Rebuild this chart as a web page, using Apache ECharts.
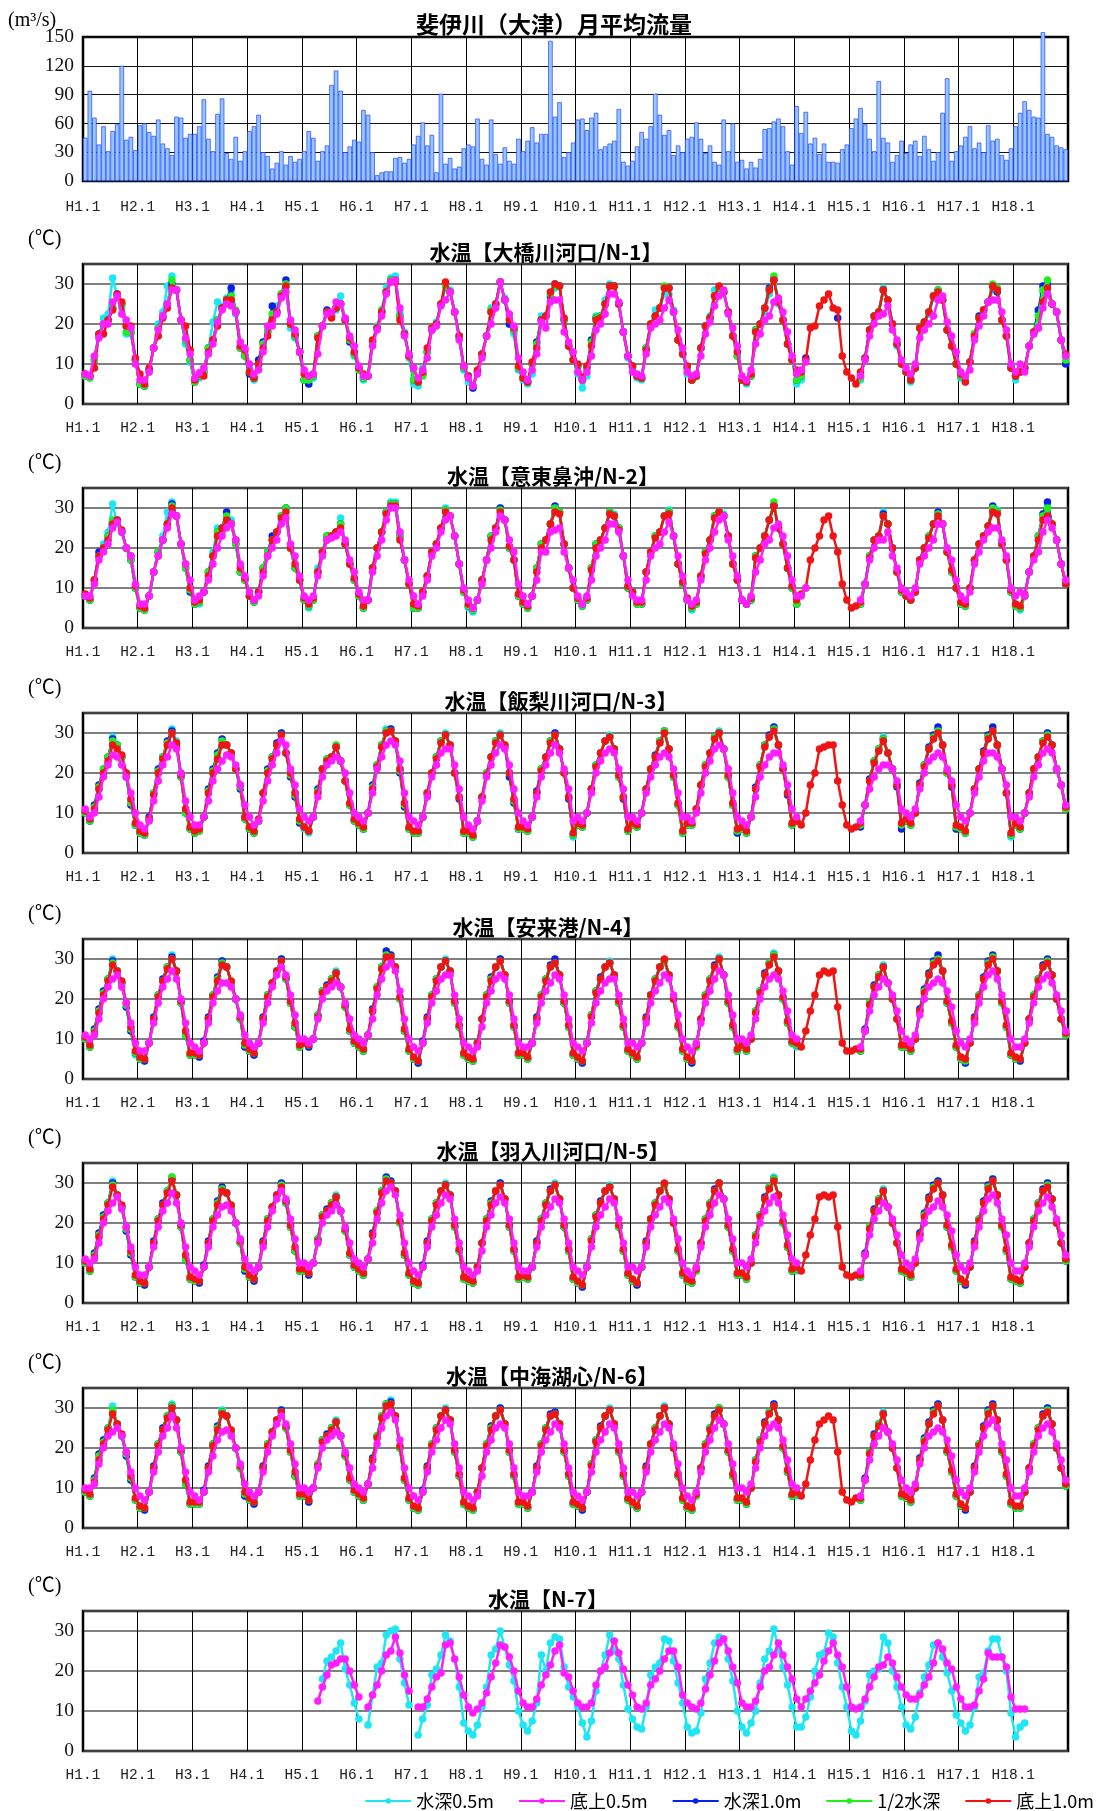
<!DOCTYPE html>
<html>
<head>
<meta charset="utf-8">
<script src="https://cdn.jsdelivr.net/npm/echarts@6/dist/echarts.min.js"></script>
<style>
  html, body { margin: 0; padding: 0; background: #fff; }
  #chart { width: 1105px; height: 1811px; }
</style>
</head>
<body>
<div id="chart"></div>
<script>
const _ = null;

// x-axis year labels (one grid line per January)
const yearLabels = ['H1.1','H2.1','H3.1','H4.1','H5.1','H6.1','H7.1','H8.1','H9.1',
  'H10.1','H11.1','H12.1','H13.1','H14.1','H15.1','H16.1','H17.1','H18.1'];

const seriesNames = ['水深0.5m', '底上0.5m', '水深1.0m', '1/2水深', '底上1.0m'];

// 斐伊川（大津）monthly mean discharge, m3/s, one row per year (Jan..Dec)
const flow = [
  [45,94,66,38,57,31,52,59,120,43,46,32],
  [58,60,51,47,64,39,34,27,67,66,45,49],
  [49,57,85,44,31,70,86,29,23,46,21,31],
  [52,57,69,30,26,13,19,31,17,26,20,23],
  [31,52,45,21,31,37,100,115,94,30,36,43],
  [41,74,69,30,6,9,10,10,24,25,19,23],
  [38,47,61,37,48,9,91,18,24,13,15,34],
  [38,36,65,23,17,64,28,18,35,21,18,44],
  [31,42,56,40,49,49,146,67,82,25,30,40],
  [64,65,53,66,71,33,36,39,42,75,20,16],
  [21,36,51,44,57,91,69,48,53,27,37,30],
  [44,46,61,44,29,37,20,17,64,31,60,20],
  [22,13,20,14,23,54,55,62,65,57,31,17],
  [78,50,72,39,45,28,39,20,20,19,33,38],
  [55,65,76,59,44,31,104,45,40,20,27,42],
  [29,38,42,26,47,33,21,30,71,107,21,31],
  [37,46,57,34,40,30,58,42,44,27,22,34],
  [57,71,83,74,67,66,155,49,46,37,35,33]
];

// ---- N-1 大橋川河口 ----
const n1_s05 = [
  [7,6.5,11.5,17,21.5,22.5,31.5,27,24,17.5,17.5,11],
  [5,4.5,8.5,14,20,23,29.5,32,28.5,21,15,10.5],
  [5.5,6.5,9,14,20.5,25.5,24.5,26.5,28,22.5,14,12.5],
  [9,6,9.5,15,18.5,22,24.5,27,29,19,16.5,13],
  [6,5,6.5,17,19.5,23,22,23.5,27,21,16,12],
  [8.5,6,7,15,19.5,23.5,29,31.5,32,23,18,11.5],
  [5,4.5,9,13,19,20.5,25,29,28.5,23,16.5,8.5],
  [5.5,4,8,12,17,24,25,30.5,26.5,20,17.5,8.5],
  [6,5,7.5,15,22,22,26,29,29.5,21,14.5,11],
  [7.5,4,7,16,22,22,26,30,29.5,25,18,11.5],
  [9,6.5,6,14,20,23.5,24,27.5,27.5,23.5,16,13],
  [7.5,6,7,14,19.5,22,28.5,28.5,28,23,17,13],
  [6,5,7,18.5,20,23,27.5,31.5,25,21,15,11],
  [5,6,_,_,_,_,_,_,_,_,_,_],
  [_,_,6,11.5,18.5,22,23,29,26,20,14.5,10],
  [8,5.5,9,19,20,22.5,26.5,27.5,26,18.5,14.5,10],
  [6.5,5.5,10.5,17,21.5,23.5,25.5,28.5,28.5,21,17,9.5],
  [6,8,9,14.5,17.5,23,28,30,25,23,16,10.5]
];
const n1_b05 = [
  [7.5,7,12,16.5,20,20,25.5,27,22.5,21,19,10],
  [6,6,8,14,18.5,22,25,28.5,28.5,21,16.5,12.5],
  [6.5,7.8,9,12.5,15,20.5,23.5,25,24.5,23,15.5,14],
  [10,7.5,8.5,13,19.5,19.5,22.5,26.5,28,21,18.5,13],
  [8.5,7,7.5,12.5,19.5,22.5,23,25.5,25,21.5,17,14.5],
  [9.5,7,7,14.5,18.5,22,27.5,30.5,31,24,17,12.5],
  [9,6.5,8.5,11.5,18.5,19.5,24.5,26,28,23,16,9.5],
  [6.5,4.5,7.5,11.5,17,20,24,30.5,26,22.5,19.5,11.5],
  [8,6,8.5,12.5,20.5,19,25.5,26,26,18,15.5,13],
  [8,6,8,12,18.5,20,22.5,27.5,27.5,25.5,18,12],
  [8,7.5,7,12.5,19,20,21,24,26,23,18.5,14],
  [8,7,7.5,12,17.5,20.5,24.5,27,28.5,22.5,19,14.5],
  [7,6,8.5,15,17.5,21,22,25.5,26.5,23,18,12],
  [7.5,8.5,10.5,_,_,_,_,_,_,_,_,_],
  [_,_,7,11,17,20,22,22.5,24.5,18.5,16,11],
  [9,7.5,10,16.5,18.5,20,22,26,27,20.5,17,13],
  [8,7,8.5,16,19.5,22,25.5,26,26,23,18.5,10],
  [8,10,8,14.5,17.5,19,24,27.5,25,23,16,12]
];
const n1_s10 = [
  [7,7,11,17.5,20,21,24,27.5,25,19.5,18,11],
  [5,4.5,8.5,14,19,22,25,30,28.5,21,16,11],
  [5.5,7,8,14,16,21,24,26,29,23,14,12],
  [7.5,6.5,11,15.5,18,24.5,23,27.5,31,20,17,13],
  [6,5,7,17,19.5,23.5,22,24,25,21,15.5,12.5],
  [9,6.5,7,15.5,19,23,28,31,31,22,17.5,12],
  [6,5.5,7.5,13,18.5,20,25,30,28,23,17,9],
  [7,4,8,12.5,17,23,25,30.5,26,20,18.5,9],
  [6.5,5.5,10,15.5,21,22,27,30,29.5,21,14.5,11],
  [9.5,6,9,16,21.5,22,25,29.5,29.5,25,18,12],
  [9.5,7,6.5,14,20,22,24,29,29,23,16,12.5],
  [9,6,7,14,19.5,21.5,27,29,28,23,17,12],
  [6,5.5,7,18.5,20,24,29,31,25.5,21,15,11],
  [6,7,11.5,_,_,_,_,_,_,21.5,_,_],
  [_,_,7,11.5,18.5,22,23,28.5,26,20,15,10],
  [8,6,9,19,20.5,23,27,28.5,26,18.5,14.5,10],
  [7,6,10.5,17.5,22,23.5,25.5,29.5,28,21,17,9],
  [7,8,9,14.5,18,23.5,29.5,30,25,23,16,10]
];
const n1_half = [
  [7,6.5,11,17,20,21,24,27,25,18,18,11],
  [5,4.5,8,14,19,22,25,31,28.5,21,16,11],
  [5.5,7,8,14,16,21,24,26,27,23.5,14,12],
  [8,6.5,10,15,18,22.5,23,27.5,30,20,17,13],
  [6,6,7,17,19.5,23,22,24,25,21,16,12.5],
  [8.5,6.5,7,15.5,19,23.5,28,31,31,22,17.5,12],
  [6,5.5,7,13,19,20,25,29.5,28,23,17,9],
  [7,4.5,8,12.5,17,23.5,25,30.5,26,21.5,18.5,9],
  [6.5,5.5,10,15,21,22,27.5,29.5,29.5,21,14.5,11],
  [9.5,6,9,15.5,21.5,22,25,29.5,29.5,25,18,12],
  [9.5,7,6.5,14,20,22,24,29.5,29,23,16,12.5],
  [9,6,7,14,19.5,21.5,27,29,28,23,17,12],
  [6,5.5,7,18.5,20,24,28.5,32,25.5,21,15,11],
  [6,7,_,_,_,_,_,_,_,_,_,_],
  [_,_,6.5,11.5,18.5,22,23,28.5,26,20,15,10],
  [8,6,9,19,20.5,23,27,28.5,26,18.5,14.5,10],
  [7,6,10.5,17.5,21.5,23.5,25.5,30,29,21,17,9],
  [7,8,9,14.5,18,22,28.5,31,25,23,16,11]
];
const n1_b10 = [
  [7.5,7,9,17.5,17.5,21,23.5,27.5,25.5,19.5,19.5,11.5],
  [7.5,5,9,14,17,21.5,24,29,28.5,21,19.5,13.5],
  [6,7.5,7,13,16,19.5,24,26,26,23,14.5,13.5],
  [8,6.5,10,14,17,21,23,27,29.5,20,17.5,13],
  [7.5,7,7.5,16.5,19.5,23,21.5,24,25,21,16.5,13],
  [9,7.5,7,16,19,23,28,30.5,30.5,21,17.5,12],
  [9,5.5,8,14,19,20,25,30.5,28,23,17,9.5],
  [7,4.5,8.5,12.5,17,23,25,30.5,26,21,19,9.5],
  [6.5,5.5,10.5,14,21,22,28,30,29.5,21.5,14.5,11],
  [10,6.5,9.5,14.5,21,21.5,25,29.5,29.5,25,18,12],
  [9.5,7,6.5,13.5,20,22,24,29,29,23,16,12.5],
  [9.5,6,7,14,19.5,21.5,27,29.5,28,23,17,13],
  [6,5.5,7.5,18,20,24,28.5,31,25.5,21,15,11],
  [8.5,8,11,19,19.5,24.5,26,27.5,24,23.5,12,8],
  [6.5,5,8,11.5,18.5,22,23,28.5,26,20,15,10],
  [8,6,9,19,20.5,23,27,28,26,18.5,14.5,10],
  [7.5,5.5,10.5,17,21.5,23.5,25.5,29.5,28.5,21,17,9],
  [7,8,9,14.5,18,19,25.5,29,25,23,16,12.5]
];

// ---- N-2 意東鼻沖 ----
const n2_s05 = [
  [8,7,12,18,21,24,31,26,24,20,17,10],
  [5,5,8,14,19,23,29,31.5,28,21,15,10],
  [6,6,9,14,19,25,24,26.5,27,22,14,12],
  [8,6.5,9,15,19,22,24,27,30,20,15,12],
  [7,5,7,15,19,23,23,23.5,27.5,21,16,12],
  [8,5,7,15,20,24,29,31.5,31.5,24,17,11],
  [5,5,9,13,19,21,25,30,28,23,16,9],
  [5,4,7,12,17,23,25,30,27,20,17,8],
  [6,5,8,15,21,22,26,29,29,21,15,10],
  [7,5.5,7,15,21,22,25,29,28.5,25,18,10],
  [9,6,6,14,19,23,24,28,29.5,23,16,11],
  [7,4.5,6,13,19,22,28,29,28.5,23,16,12],
  [7,6,7,18,20,23,27,31,25,21,15,10],
  [6,_,_,_,_,_,_,_,_,_,_,_],
  [_,_,6,11,18,22,23,29,26,20,14,9],
  [8,7,9,17,20,22.5,26,28.5,26,19,14,10],
  [6,5.5,10,17,21,23,25.5,29,29.5,21,17,9],
  [5.5,4.5,8,14,18,23,28,30.5,26,22,16,11]
];
const n2_b05 = [
  [8,8,11,17,19,21,25,26.5,24,20,18,11],
  [6,6,8,14,18,22,25,28.5,28,21,16,12],
  [7,8,9,12,16,20,23,25,26,22,16,13],
  [9,7,8,13,18,20,22,26,27.5,21,18,13],
  [8,7,8,13,18,22,22.5,23,24,22,17,14],
  [9,7,7,14,18,22,27,30,30,24,17,12],
  [8,6,8,12,18,20,24,27,28,23,16,10],
  [7,5,7,11,17,20,24,28,27,22,19,11],
  [8,6,8,12,19,19,24,24.5,25,19,15,12],
  [8,6,8,12,18,20,22,26,26,24,18,12],
  [8,7,7,12,18,20,21,24,26.5,23,18,13],
  [7,6,7,12,17,20,24,27,28,22,18,13],
  [7,6,8,14,17,21,22,25,26,23,18,12],
  [8,8,10,_,_,_,_,_,_,_,_,_],
  [_,_,7,11,17,20,22,22,24,18,15,10],
  [9,8,10,16,18,20,22,26,26,20,17,12],
  [8,7,9,16,19,22,24,25,25,22,18,10],
  [8,9,8,14,17,19,24,27,25,22,16,12]
];
const n2_s10 = [
  [8,7,12,19,20,23,26,27,24,20,17,10],
  [5,4.5,8,14,19,22,26,31,28,21,15,9],
  [6,6.5,9,14,18,24,25,29,26,21,14,12],
  [8,6.5,9,15,19,23,24,28,30,20,15,12],
  [7,5.5,7,14,19,23,23,24,26,21,16,12],
  [8,5,7,15,20,24,29,31,31,23,17,11],
  [5,5,9,13,19,21,25,29.5,28,23,16,9],
  [5.5,4.5,7,12,17,23,25,30,27,20,17,8],
  [6,5,8,15,21,22,26,30.5,29,21,15,10],
  [7,5.5,7,15,21,22,25,29,28,25,18,10],
  [9,6,6,14,19,23,24,28,29,23,16,11],
  [7,5,6,13,19,22,28,29,28,23,16,12],
  [7,6,7,18,20,23,27,30.5,25,21,15,10],
  [6,_,_,_,_,_,_,_,_,_,_,_],
  [_,_,6,11,18,22,23,28.5,26,20,14,9],
  [8,7,9,17,20,23,26,29,26,19,14,10],
  [6,5.5,10,17,21,23,25.5,30.5,29,21,17,9],
  [5.5,5,8,14,18,23,28.5,31.5,26,22,16,11]
];
const n2_half = [
  [8,7,12,18,20,23,27,27,24,20,17,10],
  [5,4.5,8,14,19,22,26,30.5,28,21,15,9.5],
  [6,6.5,9,14,18,24,25,28,26,21,14,12],
  [8,6.5,9,15,19,22,24,28,30,20,15,12],
  [7,5.5,7,14,19,23,23,24,26,21,16,12],
  [8,5,7,15,20,24,29,31,31,23,17,11],
  [5,5,9,13,19,21,25,29.5,28,23,16,9],
  [5.5,4.5,7,12,17,23,25,29.5,27,20,17,8],
  [6,5,8,15,21,22,26,30,29,21,15,10],
  [7,5.5,7,15,21,22,25,29,28,25,18,10],
  [9,6,6,14,19,23,24,28,29,23,16,11],
  [7,5,6,13,19,22,28,29,28,23,16,12],
  [7,6,7,18,20,23,27,31.5,25,21,15,10],
  [6,_,_,_,_,_,_,_,_,_,_,_],
  [_,_,6,11,18,22,23,28,26,20,14,9],
  [8,7,9,17,20,23,26,28.5,26,19,14,10],
  [6,5.5,10,17,21,23,25.5,30,29,21,17,9],
  [5.5,5,8,14,18,23,28,30,26,22,16,11]
];
const n2_b10 = [
  [8.5,7.5,12,18,20,22,26,27,24.5,20,18,10.5],
  [5.5,5,8,14,18,22,26,30,28,21,16,10],
  [6.5,7,9,13,18,23,25,27,26,22,15,12.5],
  [8,7,9,14,18,22,24,27.5,29,20,16,12],
  [7.5,6,7.5,14,19,22,23,24,25,21,16,12.5],
  [8.5,5.5,7,15,20,24,28.5,30.5,30.5,22,17,11],
  [6,5.5,9,13,19,21,25,29,28,23,16,9.5],
  [6,5,7,12,17,22,25,29,27,20.5,17,8.5],
  [6.5,5.5,8,14,20,22,26,29,28.5,21,15,10],
  [7.5,6,7.5,14.5,20,22,25,28.5,28,24.5,18,10.5],
  [9,6.5,6.5,14,19,22.5,24,28,28.5,23,16,11.5],
  [7.5,5.5,6.5,13,18.5,22,27.5,29,28,23,16,12],
  [7,6,7.5,17.5,20,23,27,30.5,25,21,15,10.5],
  [7,8.5,10,17,20,23,27,28,23,19,11,7],
  [5,5.5,6.5,11,17.5,22,23,28,26,20,14,9.5],
  [8,7,9,17,20,22.5,26,28,26,19,14.5,10],
  [6.5,6,10,17,21,23,25.5,29,28.5,21,17,9.5],
  [6,5.5,8.5,14,18,22,27,28,26,22,16,11]
];

// ---- N-3 飯梨川河口 ----
const n3_s05 = [
  [10,8,11,16,20,24,29,27,24,20,13,7],
  [5,4.5,8,15,20,24,27,31,28,19,10,6],
  [5,6,9,15,20,24,28,27,25,21,17,9],
  [6,5,8,15,20,24,27,30,25,20,15,8],
  [6,5,9,15,21,23,24,27,23,18,12,8],
  [7,6,10,16,22,27,31,31,28,21,12,6],
  [5,5,9,15,20,24,28,30,27,20,14,5],
  [5,4,8,14,20,24,28,30,27,20,13,6],
  [6,5.5,9,15,21,24,28,30,26,20,14,4],
  [7,6.5,10,16,22,25,28,29.5,26,19,14,5.5],
  [7,6.5,10,16,21,24,28,30.5,26,19,12,5],
  [7,7,11,17,22,25,29,30.5,26,19,12,5],
  [6,5,9,16,22,27,29,31.5,27,21,15,7],
  [8,_,_,_,_,_,_,_,_,_,_,_],
  [_,_,7,12,18,23,26,29,25,21,17,7],
  [8,7,10,17,22,26,29,31,27,20,17,6],
  [6,5,10,16,21,25,29,31,27,21,15,4],
  [7,6,10,15,21,24,28,30,27,21,17,11]
];
const n3_b05 = [
  [11,9,10,14,19,22,24.5,24,22,19,15,10],
  [7,6,8,13,18,22,24,27,26,20,13,9],
  [7,7,9,13,18,21,23,24.5,24,22,17,12],
  [9,7,8,13,18,22,25,28,27,21,17,11],
  [9,8,9,14,19,22,23,24,23,20,15,10],
  [9,8,10,15,21,24,27,28,27,23,15,9],
  [8,7,9,14,19,22,25,26,26,22,16,9],
  [7,6,8,13,19,22,25,27,26,22,16,10],
  [8,7,9,14,19,22,25,27,25,21,16,8],
  [9,8,10,15,20,23,25,26,25,21,16,9],
  [9,8,10,15,19,22,24,25,24,21,15,9],
  [9,8,10,15,20,23,26,27,26,21,15,9],
  [8,7,9,14,19,22,24,25,25,22,17,11],
  [9,_,_,_,_,_,_,_,_,_,_,_],
  [_,_,8,12,16,19,21,22,22,21,18,11],
  [10,9,11,16,20,23,24,25,24,21,18,12],
  [9,8,10,15,19,23,25,25,24,21,17,9],
  [9,8,10,14,19,22,25,26,25,21,17,12]
];
const n3_s10 = [
  [10,8,12,17,21,24,28.5,27,24,19,12,7],
  [5,4.5,9,15,21,24,28,30.5,27,19,10,6],
  [5,5.5,9,16,21,25,28.5,27,25,21,16,8.5],
  [6,5,8,15,21,24,27.5,30,25,19,14,7.5],
  [6.5,5.5,9,16,21,23.5,24,26.5,23,18,12,8],
  [7,6,10,17,22,27,30.5,31,27.5,20,11.5,6],
  [5,5,9,15,20,24,28,29.5,27,20,13.5,5],
  [5,4,8,14,20,24,28,29.5,26.5,19,12.5,6],
  [6,5.5,9,15.5,21,24,28,30,26,20,13.5,4.5],
  [7,6.5,10,16,22,25,28,29,26,19,13.5,5.5],
  [7,6.5,10,16,21,24.5,28,30.5,26,19,12,5],
  [7,7,11,17,22,25,29,30,26,19,12,5],
  [6,5,9,16.5,22,27,29.5,31.5,27,21,14.5,7],
  [8,_,_,_,_,_,_,_,_,_,_,_],
  [_,_,6.5,12,18.5,23,26,28.5,25,21,16.5,6],
  [8,7,10,17.5,22,26.5,29.5,31.5,27,20,16.5,6],
  [6,5,10,16,21,25.5,29.5,31.5,27,21,15,4.5],
  [7,6,10,15,21,24,28,30,27,21,17,11]
];
const n3_half = [
  [10,8,11.5,16.5,21,24,28,27,24,19.5,12.5,7],
  [5,4.5,8.5,15,20.5,24,27.5,30,27.5,19,10,6],
  [5,5.5,9,15.5,20.5,24.5,28,27,25,21,16.5,8.5],
  [6,5,8,15,20.5,24,27,29.5,25,19.5,14.5,8],
  [6.5,5.5,9,15.5,21,23.5,24,27,23,18,12,8],
  [7,6,10,16.5,22,27,30.5,30.5,28,20.5,12,6],
  [5,5,9,15,20,24,28,29.5,27,20,14,5],
  [5,4,8,14,20,24,28,29.5,27,20,13,6],
  [6,5.5,9,15,21,24,28,29.5,26,20,14,4.5],
  [7,6.5,10,16,22,25,28,29,26,19,14,5.5],
  [7,6.5,10,16,21,24,28,30.5,26,19,12,5],
  [7,7,11,17,22,25,29,30,26,19,12,5.5],
  [6,5,9,16,22,27,29,31,27,21,15,7],
  [8,_,_,_,_,_,_,_,_,_,_,_],
  [_,_,7,12,18,23,26,28.5,25,21,17,7],
  [8,7,10,17,22,26,29,30.5,27,20,17,6.5],
  [6,5,10,16,21,25,29,30.5,27,21,15,4.5],
  [7,6,10,15,21,24,28,29.5,27,21,17,11]
];
const n3_b10 = [
  [10.5,8.5,11,16,20,23,27,26,24.5,20,13.5,7.5],
  [5.5,5,8.5,14.5,20,23.5,27,30,27.5,19.5,11,6.5],
  [5.5,6,9,15,20,23.5,27,27,25,21,17,9],
  [6.5,5.5,8.5,15,20,23.5,27,29.5,25,20,15,8.5],
  [6.5,5.5,9,15,21,23,24,26.5,23,18,12.5,8.5],
  [7.5,6.5,10,16,21.5,26.5,30,30.5,28,21,12.5,6.5],
  [5.5,5.5,9,15,20,23.5,27.5,29.5,27,20,14,5.5],
  [5.5,4.5,8,14,19.5,24,27.5,29.5,27,20,13.5,6.5],
  [6.5,6,9,15,20.5,24,27.5,29.5,26,20,14,5],
  [7.5,7,10,16,21.5,25,28,29,26,19.5,14,6],
  [7.5,7,10,16,21,24,27.5,30,26,19.5,12.5,5.5],
  [7.5,7.5,11,17,21.5,25,28.5,30,26,19.5,12.5,6],
  [6.5,5.5,9,16,21.5,26.5,29,30.5,27,21,15,7.5],
  [8,7,10,17,20,26,26.5,27,27,18,12,7],
  [6,6.5,7.5,12,18,22.5,25.5,28,25,21,17,7.5],
  [8.5,7.5,10,17,21.5,26,28.5,30,27,20.5,17,7],
  [6.5,5.5,10,16,21,25,28.5,30.5,27,21,15,5],
  [7.5,6.5,10,15,21,24,27.5,29,27,21,17,11.5]
];

// ---- N-4 安来港 ----
const n4_s05 = [
  [10,8,12,17,22,25,30,27,24,18,12,6],
  [5,4.5,9,15,21,25,28,31,27,19,11,6],
  [6,5.5,9,15,21,25,29.5,28,24,20,15,8],
  [7,6,9,15,21,24,27,30,25,19,13,8],
  [9,8,10,16,22,23,25,27,23,18,12,9],
  [8,7,11,17,23,28,31,31,28,20,12,7],
  [5,4,9,15,21,25,28,30,27,19,13,6],
  [5,4.5,9,15,21,25,28,30,26,19,13,6],
  [6,5,9,15,21,25,28,29.5,26,19,13,6],
  [5,4,9,16,22,25,28,29.5,26,19,13,7],
  [6,5,9,15,21,25,28,29.5,26,20,13,7],
  [5,4,8,15,21,25,28,30.5,26,19,13,7],
  [8,7,10,17,22,26,29,31.5,27,20,14,9],
  [8,_,_,_,_,_,_,_,_,_,_,_],
  [_,_,7,12,19,23,26,28.5,24,20,15,8],
  [8,7,10,17,22,26,29,30,27,19,14,8],
  [5,4,9,15,21,25,29,30.5,27,19,13,6],
  [5,4.5,9,15,21,25,28,29.5,26,20,15,11]
];
const n4_b05 = [
  [11,10,11,15,20,23,25,26,23,19,14,9],
  [7,7,9,14,19,23,25,27,25,20,14,9],
  [8,7,9,14,19,22,24,24,23,20,16,11],
  [9,8,9,14,19,23,26,28,26,21,16,10],
  [10,9,10,15,20,22,23,24,23,19,15,11],
  [10,9,11,15,21,25,28,29,27,22,15,10],
  [8,7,9,14,19,22,25,26,26,21,15,9],
  [8,7,8,13,19,22,25,26,25,21,15,9],
  [8,8,9,14,19,22,24,26,25,21,15,9],
  [8,7,9,14,19,22,24,25,25,21,15,9],
  [9,8,9,14,19,22,24,26,25,21,16,10],
  [8,7,9,14,19,22,25,27,26,21,16,10],
  [10,9,11,15,20,23,25,26,25,22,17,11],
  [10,_,_,_,_,_,_,_,_,_,_,_],
  [_,_,8,12,17,21,23,25,24,21,17,12],
  [10,9,11,16,20,23,24,25,24,22,18,12],
  [9,8,10,14,19,23,26,27,25,21,17,10],
  [8,8,10,14,19,23,25,26,24,21,17,12]
];
const n4_s10 = [
  [10,8,12.5,17.5,22,25,29.5,27,24,18,12,6.5],
  [5,4.5,9,15.5,21,25,28,30.5,27,19,11,6],
  [6,5.5,9.5,15.5,21,25.5,29.5,28,24,20,15,8],
  [7,6,9,15.5,21,24,27,30,25,19,13,8],
  [9,8,10,16,22,23.5,25,26.5,23,18,12,9],
  [8,7,11,17.5,23,28,32,31,28,20,12,7],
  [5,4,9.5,15.5,21,25,28,29.5,27,19,13,6],
  [5,4.5,9,15,21,25.5,28,30,26,19,13,6],
  [6,5,9,15.5,21,25,28.5,30,26,19,13,6],
  [5,4,9,16,22,25.5,28,29,26,19,13,7],
  [6,5,9,15.5,21,25,28,29.5,26,20,13,7],
  [5,4,8.5,15,21,25,28.5,30,26,19,13,7],
  [8,7,10,17,22,26.5,29,31,27,20,14,9],
  [8.5,_,_,_,_,_,_,_,_,_,_,_],
  [_,_,7,12.5,19,23.5,26,28,24,20,15,8],
  [8,7,10,17.5,22.5,26.5,29.5,31,27,19,14,8],
  [5,4,9,15.5,21,25.5,29.5,31,27,19,13,6],
  [5,4.5,9,15,21,25,28.5,30,26,20,15,11]
];
const n4_half = [
  [10,8,12,17,21.5,25,29,27,24,18.5,12.5,6.5],
  [5,5,9,15,21,24.5,28,30,27,19,11,6],
  [6,6,9,15,21,25,29,28,24,20,15,8.5],
  [7,6.5,9,15,21,24,27,29.5,25,19,13,8],
  [9,8.5,10,16,22,23,25,26.5,23,18,12,9],
  [8,7,11,17,23,28,31,30.5,28,20,12,7],
  [5,4.5,9,15,21,25,28,29.5,27,19,13,6],
  [5,4.5,9,15,21,25,28,29.5,26,19,13,6],
  [6,5,9,15,21,25,28,29,26,19,13,6],
  [5,4.5,9,16,22,25,28,29,26,19,13,7],
  [6,5,9,15,21,25,28,29.5,26,20,13,7],
  [5,4.5,8,15,21,25,28,30,26,19,13,7],
  [8,7,10,17,22,26,29,31,27,20,14,9],
  [8.5,_,_,_,_,_,_,_,_,_,_,_],
  [_,_,7,12,19,23,26,28,24,20,15,8],
  [8,7,10,17,22,26,29,30,27,19,14,8],
  [5,4.5,9,15,21,25,29,30.5,27,19,13,6],
  [5,5,9,15,21,25,28,29.5,26,20,15,11]
];
const n4_b10 = [
  [10.5,8.5,11.5,16.5,21,24.5,28.5,27,24.5,19,13,7],
  [5.5,5,9,15,20.5,24.5,27.5,30,27,19.5,12,6.5],
  [6.5,6,9,15,20.5,24.5,28.5,28,24.5,20,15.5,9],
  [7.5,6.5,9,15,20.5,24,27,29.5,25.5,19.5,14,8.5],
  [9,8.5,10,15.5,21.5,23,24.5,26.5,23,18.5,12.5,9.5],
  [8.5,7.5,11,17,22.5,27.5,30.5,30.5,28,20.5,12.5,7.5],
  [5.5,4.5,9,15,20.5,24.5,28,29.5,27,19.5,13.5,6.5],
  [5.5,5,9,15,20.5,24.5,28,29.5,26,19.5,13.5,6.5],
  [6.5,5.5,9,15,20.5,24.5,28,29,26,19.5,13.5,6.5],
  [5.5,4.5,9,15.5,21.5,25,28,29,26,19.5,13.5,7.5],
  [6.5,5.5,9,15,21,24.5,28,30,26,20,13.5,7.5],
  [5.5,4.5,8.5,15,20.5,24.5,28,30,26,19.5,13.5,7.5],
  [8.5,7.5,10,16.5,21.5,26,28.5,30.5,27,20.5,14.5,9.5],
  [9,8,12,17,21,26,27,26.5,27,18,9,7],
  [7,7.5,7.5,12,18.5,23,25.5,28,24,20,15,8.5],
  [8.5,7.5,10,17,21.5,26,28.5,29.5,27,19.5,14.5,8.5],
  [5.5,5,9,15,20.5,25,28.5,30,27,19.5,13.5,6.5],
  [5.5,5,9,15,20.5,24.5,28,29,26,20,15,11.5]
];

// ---- N-5 羽入川河口 ----
const n5_s05 = [
  [10,8,12,17,22,25,30.5,27,24,18,12,6.5],
  [5,4.5,9,15,21,25,28,31.5,27,19,11,6],
  [5.5,5,9,15,21,25,28.5,27.5,24,20,15,8],
  [6.5,5.5,9,15,21,24,27,29.5,25,19,13,8],
  [8,7,10,16,22,23,25,27,23,18,12,9],
  [8,7,11,17,23,28,31,30.5,28,20,12,7],
  [5,4.5,9,15,21,25,28,30,27,19,13,6],
  [5.5,5,9,15,21,25,28,30,26,19,13,6],
  [6.5,6,9,15,21,25,28,30,26,19,13,6],
  [5,4,9,16,22,25,28,29.5,26,19,13,7],
  [5.5,4.5,9,15,21,25,28,29.5,26,20,13,7],
  [5.5,5,8,15,21,25,28,30,26,19,13,7],
  [7,6,10,17,22,26,29,31.5,27,20,14,8],
  [8,_,_,_,_,_,_,_,_,_,_,_],
  [_,_,6.5,12,19,23,26,28.5,24,20,15,8],
  [7.5,6.5,10,17,22,26,29,30.5,27,19,14,8],
  [5.5,4.5,9,15,21,25,29,31,27,19,13,6],
  [5.5,5,9,15,21,25,28,30,26,20,15,10.5]
];
const n5_b05 = [
  [11,10,11,15,20,23,25,26.5,23.5,19,14,9],
  [7,7,9,14,19,23,25,27.5,25,20,14,9],
  [8,7,9,14,19,22,24,24.5,23,20,16,11],
  [9,8,9,14,19,23,26,28,26,21,16,10],
  [10,9,10,15,20,22,23,24.5,23,19,15,11],
  [10,9,11,15,21,25,28,29,27,22,15,10],
  [8,7,9,14,19,22,25,27,26,21,15,9],
  [8,7,8,13,19,22,25,26.5,25,21,15,9],
  [8,8,9,14,19,22,24,26,25,21,15,9],
  [8,7,9,14,19,22,24,26,25,21,15,9],
  [9,8,9,14,19,22,24,26,25,21,16,10],
  [8,7,9,14,19,22,25,27,26,21,16,10],
  [10,9,11,15,20,23,25,26.5,25,22,17,11],
  [10,_,_,_,_,_,_,_,_,_,_,_],
  [_,_,8,12,17,21,23,25,24,21,17,12],
  [10,9,11,16,20,23,24,25.5,24,22,18,12],
  [9,8,10,14,19,23,26,27,25,21,17,10],
  [8,8,10,14,19,23,25,26.5,24,21,17,12]
];
const n5_s10 = [
  [10,8,12.5,17.5,22,25,30,27,24,18,12,6.5],
  [5,4.5,9,15.5,21,25,28,31,27,19,11,6],
  [5.5,5,9.5,15.5,21,25.5,29,27.5,24,20,15,8],
  [6.5,5.5,9,15.5,21,24,27,30,25,19,13,8],
  [8,7,10,16,22,23.5,25,26.5,23,18,12,9],
  [8,7,11,17.5,23,28,31.5,30.5,28,20,12,7],
  [5,4.5,9.5,15.5,21,25,28,29.5,27,19,13,6],
  [5.5,5,9,15,21,25.5,28,30,26,19,13,6],
  [6.5,6,9,15.5,21,25,28.5,29.5,26,19,13,6],
  [5,4,9,16,22,25.5,28,29,26,19,13,7],
  [5.5,4.5,9,15.5,21,25,28,29.5,26,20,13,7],
  [5.5,5,8.5,15,21,25,28.5,30,26,19,13,7],
  [7,6,10,17,22,26.5,29,31,27,20,14,8],
  [8.5,_,_,_,_,_,_,_,_,_,_,_],
  [_,_,6.5,12.5,19,23.5,26,28,24,20,15,8],
  [7.5,6.5,10,17.5,22.5,26.5,29.5,30.5,27,19,14,8],
  [5.5,4.5,9,15.5,21,25.5,29.5,31,27,19,13,6],
  [5.5,5,9,15,21,25,28.5,30,26,20,15,10.5]
];
const n5_half = [
  [10,8,12,17,21.5,25,29.5,27,24,18.5,12.5,6.5],
  [5,5,9,15,21,24.5,28,31.5,27,19,11,6],
  [5.5,5.5,9,15,21,25,28.5,27.5,24,20,15,8.5],
  [6.5,6,9,15,21,24,27,29.5,25,19,13,8],
  [8,7.5,10,16,22,23,25,26.5,23,18,12,9],
  [8,7,11,17,23,28,31,30,28,20,12,7],
  [5,4.5,9,15,21,25,28,29.5,27,19,13,6],
  [5.5,5,9,15,21,25,28,29.5,26,19,13,6],
  [6.5,6,9,15,21,25,28,29.5,26,19,13,6],
  [5,4.5,9,16,22,25,28,29,26,19,13,7],
  [5.5,5,9,15,21,25,28,29.5,26,20,13,7],
  [5.5,5,8,15,21,25,28,30,26,19,13,7],
  [7,6,10,17,22,26,29,31,27,20,14,8],
  [8.5,_,_,_,_,_,_,_,_,_,_,_],
  [_,_,6.5,12,19,23,26,28,24,20,15,8],
  [7.5,6.5,10,17,22,26,29,30,27,19,14,8],
  [5.5,5,9,15,21,25,29,30.5,27,19,13,6],
  [5.5,5,9,15,21,25,28,29.5,26,20,15,10.5]
];
const n5_b10 = [
  [10.5,8.5,11.5,16.5,21,24.5,29,27,24.5,19,13,7],
  [5.5,5,9,15,20.5,24.5,27.5,30.5,27,19.5,12,6.5],
  [6,5.5,9,15,20.5,24.5,28,27.5,24.5,20,15.5,9],
  [7,6,9,15,20.5,24,27,29,25.5,19.5,14,8.5],
  [8.5,7.5,10,15.5,21.5,23,24.5,26.5,23,18.5,12.5,9.5],
  [8.5,7.5,11,17,22.5,27.5,30.5,30,28,20.5,12.5,7.5],
  [5.5,5,9,15,20.5,24.5,28,29.5,27,19.5,13.5,6.5],
  [6,5.5,9,15,20.5,24.5,28,29.5,26,19.5,13.5,6.5],
  [7,6.5,9,15,20.5,24.5,28,29.5,26,19.5,13.5,6.5],
  [5.5,4.5,9,15.5,21.5,25,28,29,26,19.5,13.5,7.5],
  [6,5,9,15,21,24.5,28,30,26,20,13.5,7.5],
  [6,5.5,8.5,15,20.5,24.5,28,30,26,19.5,13.5,7.5],
  [7.5,6.5,10,16.5,21.5,26,28.5,30.5,27,20.5,14.5,8.5],
  [9,8,12,17,21,26.5,27,26.5,27,19,9,7],
  [6.5,7,7,12,18.5,23,25.5,28,24,20,15,8.5],
  [8,7,10,17,21.5,26,28.5,30,27,19.5,14.5,8.5],
  [6,5,9,15,20.5,25,28.5,30.5,27,19.5,13.5,6.5],
  [6,5.5,9,15,20.5,24.5,28,29,26,20,15,11]
];

// ---- N-6 中海湖心 ----
const n6_s05 = [
  [9,8,12,18,22,25,30.5,26,23,18,12,7],
  [5,4.5,9,15,21,25,28,31,27,19,11,6],
  [6,6,9,15,21,25,29.5,28,24,20,15,8],
  [7,6,9,15,21,24,27,29.5,25,19,13,8],
  [8,6.5,10,16,22,23,25,27,23,18,12,9],
  [8,7,11,17,23,28,31,32,28,20,12,7],
  [5,4.5,9,15,21,25,28,30,27,19,13,6],
  [5,4.5,9,15,21,25,28,30,26,19,13,6],
  [6,5,9,15,21,25,28,29,26,19,13,6],
  [5.5,4.5,9,16,22,25,28,30,26,19,13,7],
  [6,5,9,15,21,25,28,30.5,26,20,13,7],
  [5,4.5,8,15,21,25,28,30,26,19,13,7],
  [7,6,10,17,22,26,29,31,27,20,14,8],
  [8,_,_,_,_,_,_,_,_,_,_,_],
  [_,_,7,12,19,23,26,29,24,20,15,8],
  [7.5,6.5,10,17,22,26,29,31,27,19,14,8],
  [5.5,4.5,9,15,21,25,29,31,27,19,13,6],
  [5,5,9,15,21,25,28,30,26,20,15,10.5]
];
const n6_b05 = [
  [10,10,11,16,20,23,24,25,23,19,14,10],
  [8,7,9,14,19,23,25,28,25,20,14,9],
  [8,7,9,14,18,22,24,24.5,23,20,16,11],
  [9,8,9,14,19,23,26,28,26,21,16,10],
  [10,9,10,15,20,22,23,24,23,19,15,11],
  [10,9,11,15,21,25,28,29,27,22,15,10],
  [8,7,9,14,19,22,25,27,26,21,15,9],
  [8,7,8,13,19,22,25,26,25,21,15,9],
  [8,8,9,14,19,22,24,26,25,21,15,9],
  [8,7,9,14,19,22,24,26,25,21,15,9],
  [9,8,9,14,19,22,24,26,25,21,16,10],
  [8,7,9,14,19,22,25,27,26,21,16,10],
  [10,9,11,15,20,23,25,26,25,22,17,11],
  [10,_,_,_,_,_,_,_,_,_,_,_],
  [_,_,8,12,17,21,23,25,24,21,17,12],
  [10,9,11,16,20,23,24,25,24,22,18,12],
  [9,8,10,14,19,23,26,27,25,21,17,10],
  [8,8,10,14,19,23,25,26,24,21,17,12]
];
const n6_s10 = [
  [9,8,12.5,18.5,22,25,29,26,23,18,12,7],
  [5,4.5,9,15.5,21,25,28,30.5,27,19,11,6],
  [6,6,9.5,15.5,21,25.5,29,28,24,20,15,8],
  [7,6,9,15.5,21,24,27,29.5,25,19,13,8],
  [8,6.5,10,16,22,23.5,25,26.5,23,18,12,9],
  [8,7,11,17.5,23,28,31,31.5,28,20,12,7],
  [5,4.5,9.5,15.5,21,25,28,29.5,27,19,13,6],
  [5,4.5,9,15,21,25.5,28,30,26,19,13,6],
  [6,5,9,15.5,21,25,28.5,29,26,19,13,6],
  [5.5,4.5,9,16,22,25.5,28,29.5,26,19,13,7],
  [6,5,9,15.5,21,25,28,30,26,20,13,7],
  [5,4.5,8.5,15,21,25,28.5,30,26,19,13,7],
  [7,6,10,17,22,26.5,29,31,27,20,14,8],
  [8.5,_,_,_,_,_,_,_,_,_,_,_],
  [_,_,7,12.5,19,23.5,26,28.5,24,20,15,8],
  [7.5,6.5,10,17.5,22.5,26.5,29.5,31,27,19,14,8],
  [5.5,4.5,9,15.5,21,25.5,29.5,31,27,19,13,6],
  [5,5,9,15,21,25,28.5,30,26,20,15,10.5]
];
const n6_half = [
  [9,8,12,18,21.5,25,29.5,26,23,18.5,12.5,7],
  [5,5,9,15,21,24.5,28,30.5,27,19,11,6],
  [6,6,9,15,21,25,29,28,24,20,15,8.5],
  [7,6.5,9,15,21,24,27,29,25,19,13,8],
  [8,7,10,16,22,23,25,26.5,23,18,12,9],
  [8,7,11,17,23,28,31,31,28,20,12,7],
  [5,4.5,9,15,21,25,28,29.5,27,19,13,6],
  [5,4.5,9,15,21,25,28,29.5,26,19,13,6],
  [6,5,9,15,21,25,28,28.5,26,19,13,6],
  [5.5,5,9,16,22,25,28,29.5,26,19,13,7],
  [6,5,9,15,21,25,28,30,26,20,13,7],
  [5,4.5,8,15,21,25,28,30,26,19,13,7],
  [7,6,10,17,22,26,29,30.5,27,20,14,8],
  [8.5,_,_,_,_,_,_,_,_,_,_,_],
  [_,_,7,12,19,23,26,28.5,24,20,15,8],
  [7.5,6.5,10,17,22,26,29,30.5,27,19,14,8],
  [5.5,5,9,15,21,25,29,30.5,27,19,13,6],
  [5,5,9,15,21,25,28,29.5,26,20,15,10.5]
];
const n6_b10 = [
  [9.5,8.5,11.5,17,21,24.5,28.5,26,23.5,19,13,7.5],
  [5.5,5,9,15,20.5,24.5,27.5,30,27,19.5,12,6.5],
  [6.5,6.5,9,15,20.5,24.5,28.5,28,24.5,20,15.5,9],
  [7.5,6.5,9,15,20.5,24,27,29,25.5,19.5,14,8.5],
  [8.5,7,10,15.5,21.5,23,24.5,26.5,23,18.5,12.5,9.5],
  [8.5,7.5,11,17,22.5,27.5,30.5,31,28,20.5,12.5,7.5],
  [5.5,5,9,15,20.5,24.5,28,29.5,27,19.5,13.5,6.5],
  [5.5,5,9,15,20.5,24.5,28,29.5,26,19.5,13.5,6.5],
  [6.5,5.5,9,15,20.5,24.5,28,28.5,26,19.5,13.5,6.5],
  [6,5,9,15.5,21.5,25,28,29.5,26,19.5,13.5,7.5],
  [6.5,5.5,9,15,21,24.5,28,30,26,20,13.5,7.5],
  [5.5,5,8.5,15,20.5,24.5,28,29.5,26,19.5,13.5,7.5],
  [7.5,6.5,10,16.5,21.5,26,28.5,30.5,27,20.5,14.5,8.5],
  [9,8,11,17,22,26,27,28,27,19,9,7],
  [6.5,7.5,7.5,12,18.5,23,25.5,28.5,24,20,15,8.5],
  [8,7,10,17,21.5,26,28.5,30.5,27,19.5,14.5,8.5],
  [6,5,9,15,20.5,25,28.5,30.5,27,19.5,13.5,6.5],
  [5.5,5.5,9,15,20.5,24.5,28,29,26,20,15,11]
];

// ---- N-7 (surface and near-bottom only) ----
const n7_s05 = [
  [_,_,_,_,_,_,_,_,_,_,_,_],
  [_,_,_,_,_,_,_,_,_,_,_,_],
  [_,_,_,_,_,_,_,_,_,_,_,_],
  [_,_,_,_,_,_,_,_,_,_,_,_],
  [_,_,_,_,18,22.5,23.5,25,27,20.5,16.5,12],
  [8,_,6.5,14,21,22,29,30,30.5,23,17,11.5],
  [_,4,8,11.5,19,20.5,24,29,27.5,23,16,7],
  [5,4,6.5,11,16,24,25.5,30,26,21.5,17.5,10],
  [6.5,5,7.5,12,24,20,27,28.5,28,21,16,13.5],
  [11,7,3.5,7.5,15,20,24,29,25,23,16.5,10.5],
  [8,6,5.5,11,19,21,22,28,27.5,22.5,17,12],
  [6,4.5,5,9.5,18,22,27,28.5,28,23,17.5,10],
  [6,4.5,7,10,17,23,25,30.5,25.5,21,16.5,11],
  [6,6,8.5,13.5,20,24,24.5,29.5,28.5,22,16,11],
  [5,4,7.5,12.5,19,20,20.5,28.5,27,20,16,11],
  [6.5,5.5,8.5,14.5,18.5,21.5,26.5,27,23.5,19.5,15,9],
  [7,5,6.5,11,18.5,19.5,25,28,28,23.5,20,9.5],
  [3.5,6,7,_,_,_,_,_,_,_,_,_]
];
const n7_b05 = [
  [_,_,_,_,_,_,_,_,_,_,_,_],
  [_,_,_,_,_,_,_,_,_,_,_,_],
  [_,_,_,_,_,_,_,_,_,_,_,_],
  [_,_,_,_,_,_,_,_,_,_,_,_],
  [_,_,_,12.5,16,19,21.5,22,23,23,20,16.5],
  [13.5,_,11,14,16.5,20,24,25,28.5,24.5,19,15],
  [_,11,11,13,16,18.5,19.5,26.5,27,23,18.5,14],
  [11,9.5,10.5,12,14.5,18.5,22,26.5,26,23.5,20,15],
  [12,11,11,13,16.5,19,21.5,25,26.5,19.5,18.5,15],
  [12,11,11,12,16.5,20,21,24.5,27.5,24.5,20.5,16.5],
  [14,11,10.5,12,16.5,18,20,23,25,25,21,14],
  [12,11,10.5,12,15.5,19,22.5,27,28,25,21,17],
  [12,11,11,12.5,16,20,21,24,27,24,21,18],
  [13,11,13,15,17,19,22.5,25,27,24,21,16],
  [11,10.5,11,13,16,18.5,21,21.5,23.5,22,18.5,16],
  [14,13,13,14,16.5,18.5,22,27,25.5,22,20.5,16],
  [13,11,11,11.5,15,18,24.5,23.5,23.5,23.5,21,13.5],
  [10.5,10.5,10.5,_,_,_,_,_,_,_,_,_]
];

const panelTitles = [
  '水温【大橋川河口/N-1】', '水温【意東鼻沖/N-2】', '水温【飯梨川河口/N-3】',
  '水温【安来港/N-4】', '水温【羽入川河口/N-5】', '水温【中海湖心/N-6】', '水温【N-7】'
];
// per panel: [水深0.5m, 底上0.5m, 水深1.0m, 1/2水深, 底上1.0m]
const panelSeries = [
  [n1_s05, n1_b05, n1_s10, n1_half, n1_b10],
  [n2_s05, n2_b05, n2_s10, n2_half, n2_b10],
  [n3_s05, n3_b05, n3_s10, n3_half, n3_b10],
  [n4_s05, n4_b05, n4_s10, n4_half, n4_b10],
  [n5_s05, n5_b05, n5_s10, n5_half, n5_b10],
  [n6_s05, n6_b05, n6_s10, n6_half, n6_b10],
  [n7_s05, n7_b05, null, null, null]
];

// ---- layout ----
const PLOT_LEFT = 83, PLOT_WIDTH = 985;
const gridTops = [37, 264, 488, 713, 939, 1163, 1388, 1611];
const gridHeights = [144, 140, 140, 140, 140, 140, 140, 140];
const titleX = [554, 546, 553, 561, 548, 553, 552, 548];
const lineColors = ['#1ee6f2', '#ff1eff', '#0a1ef0', '#1ef01e', '#f01414'];
const drawOrder = [0, 2, 3, 4, 1];   // magenta drawn last
const serifFont = "'Liberation Serif', 'Noto Sans CJK JP', serif";
const cjkFont = "'Noto Sans CJK JP', sans-serif";

const toPoints = rows => rows.flat().map((v, i) => [i + 0.5, v === null ? '-' : v]);

const grids = [], xAxes = [], yAxes = [], series = [], graphics = [];

gridTops.forEach((top, k) => {
  grids.push({ left: PLOT_LEFT, width: PLOT_WIDTH, top: top, height: gridHeights[k],
    show: true, borderColor: '#000', borderWidth: 2.5, backgroundColor: 'transparent' });
  xAxes.push({
    type: 'value', gridIndex: k, min: 0, max: 216, interval: 12,
    axisLine: { show: false }, axisTick: { show: false },
    splitLine: { show: true, lineStyle: { color: '#000', width: 1 } },
    axisLabel: {
      margin: k === 0 ? 19 : 17, fontSize: 14.5, fontFamily: "'Liberation Mono', monospace", color: '#222',
      formatter: v => (v < 216 ? yearLabels[v / 12] : '')
    }
  });
  const isFlow = k === 0;
  yAxes.push({
    type: 'value', gridIndex: k, min: 0, max: isFlow ? 150 : 35, interval: isFlow ? 30 : 10,
    axisLine: { show: false }, axisTick: { show: false },
    splitLine: { show: true, lineStyle: { color: isFlow ? '#111' : '#555', width: isFlow ? 1.2 : 1.6 } },
    axisLabel: { margin: 9, fontSize: 19.5, fontFamily: serifFont, color: '#111', showMaxLabel: isFlow }
  });
});

// discharge bars
series.push({
  type: 'bar', name: '月平均流量', xAxisIndex: 0, yAxisIndex: 0,
  data: toPoints(flow), barWidth: 4.5, clip: false,
  itemStyle: { color: '#96c6ff', borderColor: '#2244ff', borderWidth: 0.7 },
  silent: true
});

// water temperature lines
panelSeries.forEach((sets, p) => {
  const axis = p + 1;
  drawOrder.forEach((s, zi) => {
    if (!sets[s]) return;
    series.push({
      type: 'line', name: seriesNames[s], xAxisIndex: axis, yAxisIndex: axis,
      data: toPoints(sets[s]), connectNulls: false,
      symbol: 'circle', symbolSize: 7.5, showSymbol: true, showAllSymbol: true,
      lineStyle: { color: lineColors[s], width: 2.5 },
      itemStyle: { color: lineColors[s] },
      z: 3 + zi, silent: true
    });
  });
});

// titles and unit labels
graphics.push({ type: 'text', x: titleX[0], y: 24,
  style: { text: '斐伊川（大津）月平均流量', font: `bold 23px ${cjkFont}`, fill: '#000',
    textAlign: 'center', textVerticalAlign: 'middle', verticalAlign: 'middle' } });
graphics.push({ type: 'text', x: 8, y: 21,
  style: { text: '(m³/s)', font: `20px ${serifFont}`, fill: '#000',
    textAlign: 'left', textVerticalAlign: 'middle', verticalAlign: 'middle' } });
panelTitles.forEach((t, p) => {
  const top = gridTops[p + 1];
  graphics.push({ type: 'text', x: titleX[p + 1], y: top - 12,
    style: { text: t, font: `bold 21px ${cjkFont}`, fill: '#000',
      textAlign: 'center', textVerticalAlign: 'middle', verticalAlign: 'middle' } });
  graphics.push({ type: 'text', x: 28, y: top - 24,
    style: { text: '(℃)', font: `20px ${serifFont}`, fill: '#000',
      textAlign: 'left', textVerticalAlign: 'middle', verticalAlign: 'middle' } });
});

const chart = echarts.init(document.getElementById('chart'), null, { renderer: 'canvas' });
chart.setOption({
  animation: false,
  backgroundColor: '#fff',
  grid: grids, xAxis: xAxes, yAxis: yAxes,
  legend: {
    data: seriesNames, right: 6, top: 1787, itemWidth: 46, itemHeight: 7, itemGap: 24,
    textStyle: { fontSize: 18, fontFamily: cjkFont, color: '#000' }
  },
  graphic: graphics,
  series: series
});
</script>
</body>
</html>
